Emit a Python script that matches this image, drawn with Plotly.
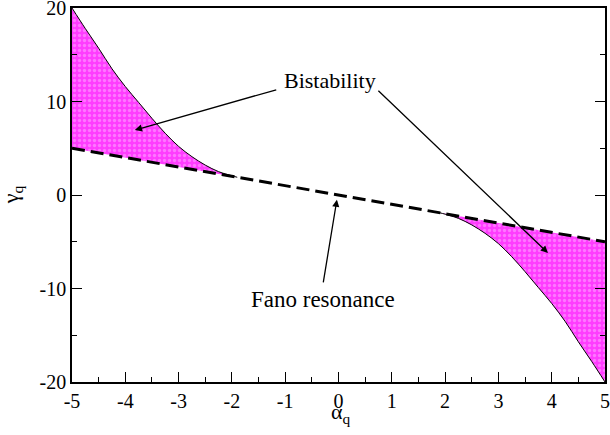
import plotly.graph_objects as go

# Fano resonance line (gamma = -alpha)
line_alpha = [-5, 5]
line_gamma = [5, -5]

# Bistability boundary, left branch
left_alpha = [-5.0, -4.75, -4.5, -4.25, -4.0, -3.75, -3.5, -3.25, -3.0, -2.75, -2.5, -2.25, -2.0, -1.9]
left_gamma = [20.0, 17.8, 15.7, 13.5, 11.6, 9.9, 8.2, 6.6, 5.2, 4.1, 3.2, 2.5, 2.05, 1.9]

# Bistability boundary, right branch
right_alpha = [1.9, 2.0, 2.25, 2.5, 2.75, 3.0, 3.25, 3.5, 3.75, 4.0, 4.25, 4.5, 4.75, 5.0]
right_gamma = [-1.9, -2.05, -2.5, -3.2, -4.1, -5.2, -6.6, -8.2, -9.9, -11.6, -13.5, -15.7, -17.8, -20.0]

x_ticks = [-5, -4, -3, -2, -1, 0, 1, 2, 3, 4, 5]
y_ticks = [-20, -10, 0, 10, 20]

FONT = "Times New Roman"
pattern = dict(shape=".", bgcolor="#ff3cff", fgcolor="#ffb0ff", size=5, solidity=0.35)

fig = go.Figure()
fig.add_trace(go.Scatter(x=left_alpha + [line_alpha[0]], y=left_gamma + [line_gamma[0]],
                         fill="toself", fillcolor="#ff5cff", fillpattern=pattern,
                         mode="none", hoverinfo="skip", showlegend=False))
fig.add_trace(go.Scatter(x=right_alpha + [line_alpha[1]], y=right_gamma + [line_gamma[1]],
                         fill="toself", fillcolor="#ff5cff", fillpattern=pattern,
                         mode="none", hoverinfo="skip", showlegend=False))
fig.add_trace(go.Scatter(x=left_alpha, y=left_gamma, mode="lines", line_shape="spline",
                         line=dict(color="black", width=1), showlegend=False))
fig.add_trace(go.Scatter(x=right_alpha, y=right_gamma, mode="lines", line_shape="spline",
                         line=dict(color="black", width=1), showlegend=False))
fig.add_trace(go.Scatter(x=line_alpha, y=line_gamma, mode="lines",
                         line=dict(color="black", width=3, dash="13px,6px"), showlegend=False))

arrow_common = dict(xref="x", yref="y", axref="x", ayref="y", text="", showarrow=True,
                    arrowhead=2, arrowsize=1.1, arrowwidth=1.3, arrowcolor="black", standoff=0)
fig.add_annotation(x=-3.82, y=6.95, ax=-1.14, ay=11.3, **arrow_common)
fig.add_annotation(x=3.93, y=-6.2, ax=0.72, ay=11.3, **arrow_common)
fig.add_annotation(x=-0.03, y=-0.5, ax=-0.29, ay=-9.5, **arrow_common)
fig.add_annotation(x=-0.16, y=12.3, text="Bistability", showarrow=False,
                   font=dict(family=FONT, size=22, color="black"))
fig.add_annotation(x=-0.29, y=-11.2, text="Fano resonance", showarrow=False,
                   font=dict(family=FONT, size=23, color="black"))
# axis titles
fig.add_annotation(xref="paper", yref="paper", x=0.505, y=-0.04, yanchor="top",
                   text="α<sub>q</sub>", showarrow=False,
                   font=dict(family=FONT, size=22, color="black"))
fig.add_annotation(xref="paper", yref="paper", x=-0.112, y=0.5, xanchor="center",
                   text="γ<sub>q</sub>", textangle=-90, showarrow=False,
                   font=dict(family=FONT, size=22, color="black"))

axis_common = dict(showgrid=False, zeroline=False, showline=True, linecolor="black", linewidth=1.5,
                   ticks="inside", ticklen=10, tickwidth=1, tickcolor="black", automargin=False,
                   ticklabeloverflow="allow",
                   tickfont=dict(family=FONT, size=20, color="black"))
fig.update_xaxes(range=[-5, 5], tickvals=x_ticks, ticktext=[str(v) for v in x_ticks],
                 minor=dict(dtick=0.5, ticks="inside", ticklen=5, tickcolor="black"),
                 mirror=True, ticklabelstandoff=0, **axis_common)
fig.update_yaxes(range=[-20, 20], tickvals=y_ticks, ticktext=[str(v) for v in y_ticks],
                 minor=dict(dtick=5, ticks="inside", ticklen=5, tickcolor="black"),
                 mirror="allticks", ticklabelstandoff=0, **axis_common)

fig.update_layout(width=610, height=435, margin=dict(l=72, r=5, t=8, b=53),
                  paper_bgcolor="white", plot_bgcolor="white", showlegend=False,
                  font=dict(family=FONT))

fig.write_html("out.html", config={"displayModeBar": False},
               post_script="document.body.style.margin='0';document.body.style.padding='0';")
